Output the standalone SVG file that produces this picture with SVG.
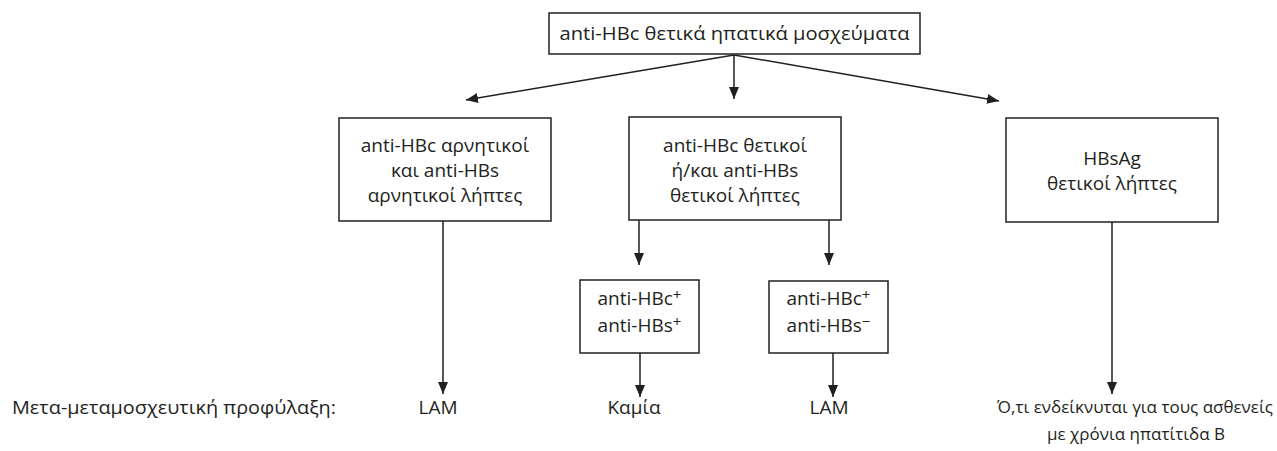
<svg xmlns="http://www.w3.org/2000/svg" width="1277" height="451" viewBox="0 0 1277 451">
<style>
  .box { fill: #fff; stroke: #231f20; stroke-width: 1.5; }
  .t { font-family: "Open Sans", "Noto Sans", "DejaVu Sans", sans-serif; font-size: 19px; fill: #231f20; text-anchor: middle; }
  .tl { text-anchor: start; }
  .sm { font-size: 17px; }
  .sup { font-size: 15px; }
  .c line { stroke: #231f20; stroke-width: 1.5; marker-end: url(#ah); }
</style>
<defs>
  <marker id="ah" viewBox="0 0 12 10" refX="12" refY="5" markerWidth="12" markerHeight="10" markerUnits="userSpaceOnUse" orient="auto">
    <path d="M0,0 L12,5 L0,10 Z" fill="#231f20"/>
  </marker>
</defs>
<rect width="1277" height="451" fill="#fff"/>
<g class="c" id="connectors">
  <line x1="734" y1="55" x2="734" y2="99"/>
  <line x1="734" y1="55" x2="466" y2="100"/>
  <line x1="734" y1="55" x2="999" y2="101"/>
  <line x1="443" y1="221" x2="443" y2="394"/>
  <line x1="639" y1="220" x2="639" y2="265"/>
  <line x1="829" y1="220" x2="829" y2="265"/>
  <line x1="640" y1="353" x2="640" y2="397"/>
  <line x1="833" y1="353" x2="833" y2="397"/>
  <line x1="1112" y1="222" x2="1112" y2="394"/>
</g>
<g id="top">
  <rect class="box" x="549" y="13" width="371" height="41"/>
  <text class="t" x="734.5" y="40" textLength="350" lengthAdjust="spacingAndGlyphs">anti-HBc θετικά ηπατικά μοσχεύματα</text>
</g>
<g id="left">
  <rect class="box" x="339" y="118" width="212" height="103"/>
  <text class="t" x="445" y="152">anti-HBc αρνητικοί</text>
  <text class="t" x="445" y="177">και anti-HBs</text>
  <text class="t" x="445" y="202">αρνητικοί λήπτες</text>
</g>
<g id="middle">
  <rect class="box" x="629" y="117" width="212" height="103"/>
  <text class="t" x="735" y="152">anti-HBc θετικοί</text>
  <text class="t" x="735" y="177">ή/και anti-HBs</text>
  <text class="t" x="735" y="202">θετικοί λήπτες</text>
</g>
<g id="right">
  <rect class="box" x="1006" y="118" width="212" height="104"/>
  <text class="t" x="1112" y="165">HBsAg</text>
  <text class="t" x="1112" y="190">θετικοί λήπτες</text>
</g>
<g id="small-left">
  <rect class="box" x="580" y="280" width="119" height="73"/>
  <text class="t" x="639.5" y="305">anti-HBc<tspan class="sup" dy="-5">+</tspan></text>
  <text class="t" x="639.5" y="332">anti-HBs<tspan class="sup" dy="-5">+</tspan></text>
</g>
<g id="small-right">
  <rect class="box" x="769" y="281" width="119" height="72"/>
  <text class="t" x="828.5" y="305">anti-HBc<tspan class="sup" dy="-5">+</tspan></text>
  <text class="t" x="828.5" y="332">anti-HBs<tspan class="sup" dy="-5">−</tspan></text>
</g>
<g id="labels">
  <text class="t tl" x="12" y="414" textLength="324" lengthAdjust="spacingAndGlyphs">Μετα-μεταμοσχευτική προφύλαξη:</text>
  <text class="t" x="438" y="414">LAM</text>
  <text class="t" x="634" y="414">Καμία</text>
  <text class="t" x="829" y="414">LAM</text>
  <text class="t sm" x="1135" y="413">Ό,τι ενδείκνυται για τους ασθενείς</text>
  <text class="t sm" x="1136" y="440">με χρόνια ηπατίτιδα Β</text>
</g>
</svg>
